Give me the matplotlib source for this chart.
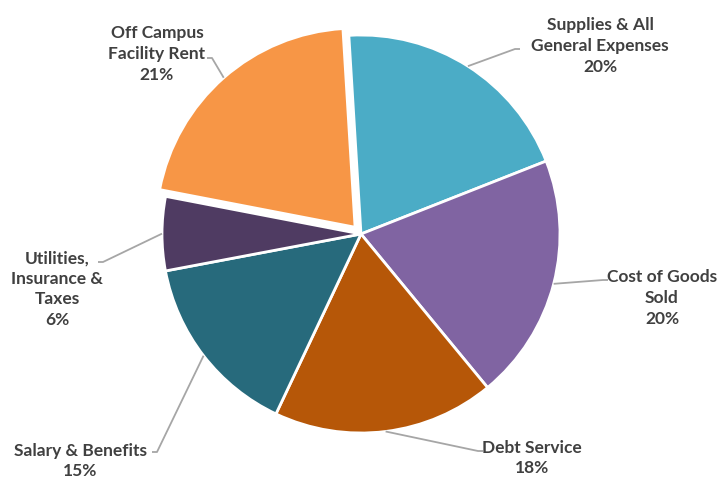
import numpy as np
import matplotlib
matplotlib.use("Agg")
import matplotlib.pyplot as plt

# data
labels = ["Supplies & All\nGeneral Expenses", "Cost of Goods\nSold", "Debt Service",
          "Salary & Benefits", "Utilities,\nInsurance &\nTaxes", "Off Campus\nFacility Rent"]
shares = [20, 20, 18, 15, 6, 21]
colors = ["#4BACC6", "#8064A2", "#B65708", "#276A7C", "#4F3B62", "#F79646"]
# pie offset is in data units here (axes are in pixels)
explode = [0, 0, 0, 0, 0, 9]

# label text centre (px, from top-left) and elbow end of leader line
label_pos = [(600, 46), (662, 298), (532, 458), (80, 461), (57, 289), (157, 54)]
elbow = [(515, 49), (603, 280), (478, 451), (157, 452), (103, 262), (212, 58)]

W, H = 717, 478
fig = plt.figure(figsize=(W / 100, H / 100), dpi=100)
ax = fig.add_axes([0, 0, 1, 1])

cx, cy, R = 361, H - 234, 199
wedges, _ = ax.pie(shares, colors=colors, explode=explode, startangle=93.5,
                   counterclock=False, center=(cx, cy), radius=R,
                   wedgeprops=dict(edgecolor="white", linewidth=2))
ax.set_xlim(0, W)
ax.set_ylim(0, H)
ax.set_aspect("equal")
ax.axis("off")

for w, lab, s, (tx, ty), (ex, ey) in zip(wedges, labels, shares, label_pos, elbow):
    mid = np.deg2rad((w.theta1 + w.theta2) / 2)
    wx, wy = w.center
    px = wx + R * np.cos(mid)
    py = wy + R * np.sin(mid)
    ax.plot([px, ex, ex + (5 if ex < tx else -5)], [py, H - ey, H - ey],
            color="#A6A6A6", lw=1.3, solid_capstyle="butt")
    ax.text(tx, H - ty, f"{lab}\n{s}%", ha="center", va="center",
            fontsize=12.5, fontweight="bold", color="#404040",
            family=["Lato", "DejaVu Sans"], linespacing=1.35)

fig.savefig("out.png", dpi=100)
